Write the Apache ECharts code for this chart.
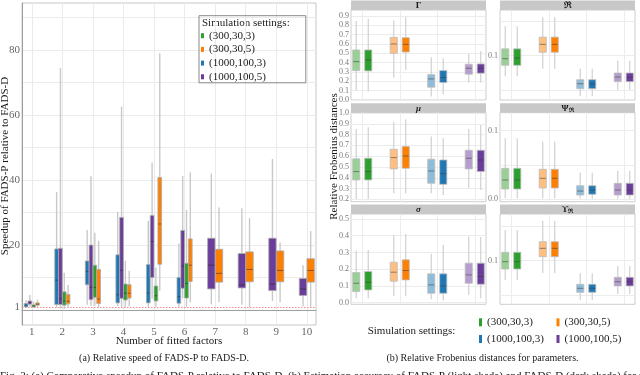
<!DOCTYPE html>
<html><head><meta charset="utf-8">
<script src="https://cdn.jsdelivr.net/npm/echarts@6/dist/echarts.min.js"></script>
<style>html,body{margin:0;padding:0;background:#fff;overflow:hidden}#c{width:640px;height:375px}</style>
</head><body><div id="c"></div>
<script>
const SERIF = '"Liberation Serif","Times New Roman",serif';

// ---------- (a) speedup of FADS-P relative to FADS-D ----------
// rows: [number of fitted factors, min, q1, median, q3, max]
const settings = ['(300,30,3)', '(300,30,5)', '(1000,100,3)', '(1000,100,5)'];
const factorTicks = [1, 2, 3, 4, 5, 6, 7, 8, 9, 10];
const speedupTicks = [1, 20, 40, 60, 80];
const speedupGrid = [0, 10, 20, 30, 40, 50, 60, 70, 80, 90];

const speed_300_30_3 = [
  [1, 0.7, 1.0, 1.2, 1.6, 2.6],
  [2, 0.3, 1.5, 2.8, 5.6, 11.5],
  [3, 1.3, 3.9, 7.0, 13.8, 23.8],
  [4, 1.0, 3.1, 5.2, 8.0, 15.2],
  [5, 1.0, 2.8, 4.4, 7.4, 13.0],
  [6, 1.0, 3.7, 8.2, 14.4, 30.8]
];
const speed_300_30_5 = [
  [1, 0.8, 1.5, 1.8, 2.2, 3.2],
  [2, 0.6, 1.9, 2.7, 4.8, 7.7],
  [3, 0.8, 2.0, 3.4, 12.5, 21.3],
  [4, 1.2, 3.7, 5.2, 7.8, 12.1],
  [5, 5.9, 14.1, 26.5, 40.8, 79.0],
  [6, 2.4, 8.8, 13.8, 21.9, 42.4],
  [7, 2.4, 8.6, 11.3, 18.7, 31.6],
  [8, 0.8, 8.7, 12.5, 17.9, 28.3],
  [9, 2.4, 8.7, 12.2, 18.2, 20.8],
  [10, 1.0, 8.6, 12.2, 15.8, 24.3]
];
const speed_1000_100_3 = [
  [1, 0.6, 1.0, 1.3, 2.0, 3.0],
  [2, 0.6, 1.7, 9.2, 18.8, 36.3],
  [3, 1.6, 7.8, 11.9, 15.1, 24.6],
  [4, 1.2, 2.2, 4.7, 17.0, 30.2],
  [5, 1.0, 2.2, 5.2, 14.0, 27.4],
  [6, 1.0, 2.1, 4.1, 10.0, 20.5]
];
const speed_1000_100_5 = [
  [1, 1.0, 1.8, 2.3, 2.8, 4.6],
  [2, 0.5, 1.7, 3.5, 19.0, 74.5],
  [3, 1.3, 3.2, 7.0, 20.0, 41.2],
  [4, 1.0, 3.6, 12.2, 28.5, 62.6],
  [5, 3.5, 10.0, 21.1, 29.1, 45.4],
  [6, 3.6, 6.7, 13.5, 24.5, 41.3],
  [7, 1.8, 6.5, 13.8, 22.1, 42.0],
  [8, 1.6, 6.8, 7.7, 17.4, 31.3],
  [9, 2.8, 6.0, 8.0, 22.1, 46.5],
  [10, 1.2, 4.5, 6.5, 9.7, 13.8]
];

// ---------- (b) relative Frobenius distances ----------
// rows: [setting index, min, q1, median, q3, max]; P = light boxes, D = dark boxes
const gamma_P = [[1, 0.100, 0.313, 0.409, 0.534, 0.843], [2, 0.238, 0.498, 0.598, 0.669, 0.850], [3, 0.036, 0.135, 0.224, 0.270, 0.456], [4, 0.185, 0.274, 0.338, 0.381, 0.491]];
const gamma_D = [[1, 0.089, 0.310, 0.427, 0.534, 0.865], [2, 0.320, 0.512, 0.594, 0.665, 0.886], [3, 0.060, 0.185, 0.238, 0.313, 0.445], [4, 0.185, 0.285, 0.338, 0.384, 0.523]];
const R_P = [[1, 0.070, 0.086, 0.0956, 0.110, 0.143], [2, 0.081, 0.105, 0.1165, 0.127, 0.156], [3, 0.041, 0.052, 0.0592, 0.065, 0.081], [4, 0.0505, 0.0622, 0.0690, 0.0748, 0.0927]];
const R_D = [[1, 0.070, 0.086, 0.0966, 0.110, 0.143], [2, 0.081, 0.105, 0.1165, 0.127, 0.156], [3, 0.041, 0.052, 0.0587, 0.065, 0.081], [4, 0.0505, 0.0622, 0.0685, 0.0748, 0.0927]];
const mu_P = [[1, 0.203, 0.380, 0.457, 0.575, 0.853], [2, 0.256, 0.482, 0.587, 0.664, 0.920], [3, 0.256, 0.349, 0.463, 0.572, 0.782], [4, 0.308, 0.482, 0.581, 0.655, 0.853]];
const mu_D = [[1, 0.203, 0.380, 0.457, 0.581, 0.869], [2, 0.256, 0.488, 0.602, 0.689, 0.940], [3, 0.240, 0.339, 0.438, 0.565, 0.767], [4, 0.287, 0.457, 0.565, 0.655, 0.890]];
const psiR_P = [[1, 0.0015, 0.0150, 0.0282, 0.0451, 0.0888], [2, 0.0015, 0.0165, 0.0306, 0.0437, 0.0840], [3, 0.0010, 0.0063, 0.0121, 0.0199, 0.0388], [4, 0.0010, 0.0063, 0.0136, 0.0233, 0.0417]];
const psiR_D = [[1, 0.0015, 0.0150, 0.0282, 0.0451, 0.0888], [2, 0.0015, 0.0165, 0.0306, 0.0437, 0.0840], [3, 0.0010, 0.0073, 0.0136, 0.0199, 0.0388], [4, 0.0010, 0.0063, 0.0136, 0.0233, 0.0417]];
const sigma_P = [[1, 0.026, 0.066, 0.116, 0.180, 0.311], [2, 0.040, 0.128, 0.182, 0.242, 0.405], [3, 0.020, 0.056, 0.106, 0.172, 0.292], [4, 0.046, 0.116, 0.166, 0.236, 0.395]];
const sigma_D = [[1, 0.026, 0.076, 0.122, 0.186, 0.315], [2, 0.040, 0.136, 0.192, 0.256, 0.411], [3, 0.012, 0.056, 0.100, 0.172, 0.344], [4, 0.026, 0.110, 0.156, 0.236, 0.392]];
const upsR_P = [[1, 0.0719, 0.0879, 0.0985, 0.1122, 0.1447], [2, 0.0817, 0.1058, 0.1180, 0.1277, 0.1580], [3, 0.0428, 0.0540, 0.0598, 0.0656, 0.0817], [4, 0.0515, 0.0632, 0.0694, 0.0758, 0.0923]];
const upsR_D = [[1, 0.0719, 0.0879, 0.0985, 0.1122, 0.1447], [2, 0.0817, 0.1058, 0.1180, 0.1277, 0.1580], [3, 0.0428, 0.0540, 0.0598, 0.0656, 0.0817], [4, 0.0515, 0.0632, 0.0694, 0.0758, 0.0923]];

const facetLabels = ['{b|Γ}', '{b|ℜ}', '{bi|μ}', '{b|Ψ}{s|ℜ}', '{bi|σ}', '{b|ϒ}{s|ℜ}'];
const facetLabelTicks = [
  [0, 0.1, 0.2, 0.3, 0.4, 0.5, 0.6, 0.7, 0.8, 0.9], [0.1],
  [0.2, 0.3, 0.4, 0.5, 0.6, 0.7, 0.8, 0.9, 1.0], [0.0, 0.1],
  [0, 0.1, 0.2, 0.3, 0.4, 0.5], [0.1]
];
const facetGridTicks = [
  [0, 0.1, 0.2, 0.3, 0.4, 0.5, 0.6, 0.7, 0.8, 0.9], [0.05, 0.1, 0.15],
  [0.2, 0.3, 0.4, 0.5, 0.6, 0.7, 0.8, 0.9, 1.0], [0, 0.05, 0.1],
  [0, 0.1, 0.2, 0.3, 0.4, 0.5], [0.05, 0.1, 0.15]
];

// ---------- styling / layout ----------
const darkColors = ['#2ca02c', '#ff7f00', '#1f78b4', '#6a3d9a'];
const lightColors = ['#99d095', '#ffbf80', '#8fbcd9', '#b59ecd'];
const leftArrays = [speed_300_30_3, speed_300_30_5, speed_1000_100_3, speed_1000_100_5];
const dodgeOrder = [2, 3, 0, 1];
const groupWidth = 0.5;
const presentAt = {};
factorTicks.forEach(f => {
  presentAt[f] = dodgeOrder.filter(i => leftArrays[i].some(r => r[0] === f));
});

const facetP = [gamma_P, R_P, mu_P, psiR_P, sigma_P, upsR_P];
const facetD = [gamma_D, R_D, mu_D, psiR_D, sigma_D, upsR_D];
const facetRange = [[-0.002, 0.962], [0.0355, 0.1665], [0.178, 1.003], [-0.0034, 0.126], [-0.01, 0.53], [0.0365, 0.168]];
const colLeft = [351, 500];
const rowTop = [10, 112.7, 214];
const rowH = [90, 89, 90.3];
const panelW = 135;

function boxShape(api, xc, hw, fill, stroke, medStroke, whisk, wl) {
  const xl = api.coord([xc - hw, 0])[0], xr = api.coord([xc + hw, 0])[0];
  const cx = api.coord([xc, 0])[0];
  const y = i => api.coord([xc, api.value(i)])[1];
  const yMin = y(1), yQ1 = y(2), yMed = y(3), yQ3 = y(4), yMax = y(5);
  return {
    type: 'group',
    children: [
      {type: 'line', shape: {x1: cx, y1: yMax, x2: cx, y2: yQ3}, style: {stroke: whisk, lineWidth: wl}},
      {type: 'line', shape: {x1: cx, y1: yQ1, x2: cx, y2: yMin}, style: {stroke: whisk, lineWidth: wl}},
      {type: 'rect', shape: {x: xl, y: yQ3, width: xr - xl, height: yQ1 - yQ3}, style: {fill: fill, stroke: stroke, lineWidth: 0.8}},
      {type: 'line', shape: {x1: xl + 0.5, y1: yMed, x2: xr - 0.5, y2: yMed}, style: {stroke: medStroke, lineWidth: 1}}
    ]
  };
}

function leftRender(si) {
  return function (params, api) {
    const f = api.value(0);
    const pres = presentAt[f];
    const n = pres.length, j = pres.indexOf(si);
    const slot = groupWidth / n;
    const xc = f - groupWidth / 2 + slot * (j + 0.5);
    return boxShape(api, xc, slot / 2 * 0.97, darkColors[si], '#a9a9a9', 'rgba(40,40,40,0.55)', '#c9c9c9', 1.4);
  };
}
function rightRender(offset, light) {
  return function (params, api) {
    const s = api.value(0);
    const c = light ? lightColors[s - 1] : darkColors[s - 1];
    return boxShape(api, s + offset, 0.095, c, '#bdbdbd', 'rgba(60,60,60,0.55)', '#d0d0d0', 1.2);
  };
}

const grids = [{left: 22, top: 3, width: 294, height: 322, show: true, borderColor: '#c6c6c6', borderWidth: 1}];
const xAxes = [{
  type: 'value', gridIndex: 0, min: 0.68, max: 10.3,
  axisLine: {show: true, lineStyle: {color: '#9e9e9e'}},
  axisTick: {show: false, customValues: factorTicks},
  axisLabel: {customValues: factorTicks, fontFamily: SERIF, fontSize: 11, color: '#666', margin: 2},
  splitLine: {show: true, lineStyle: {color: '#ebebeb', width: 1}}
}];
const yAxes = [{
  type: 'value', gridIndex: 0, min: -4.6, max: 94.5,
  axisLine: {show: true, lineStyle: {color: '#9e9e9e'}},
  axisTick: {show: false, customValues: speedupGrid},
  axisLabel: {customValues: speedupTicks, fontFamily: SERIF, fontSize: 11, color: '#666', margin: 2},
  splitLine: {show: true, lineStyle: {color: '#ebebeb', width: 1}}
}];
const series = [];
settings.forEach((name, si) => {
  const s = {
    type: 'custom', name: name, xAxisIndex: 0, yAxisIndex: 0,
    itemStyle: {color: darkColors[si]},
    renderItem: leftRender(si), clip: true,
    encode: {x: 0, y: [1, 2, 3, 4, 5]},
    data: leftArrays[si], z: 3
  };
  if (si === 0) {
    s.markLine = {silent: true, symbol: 'none', label: {show: false}, z: 2,
      lineStyle: {color: '#f08080', opacity: 0.9, type: [1.5, 1.5], width: 1}, data: [{yAxis: 1}]};
  }
  series.push(s);
});

const graphics = [];
for (let k = 0; k < 6; k++) {
  const col = k % 2, row = Math.floor(k / 2);
  const gi = k + 1;
  grids.push({left: colLeft[col], top: rowTop[row], width: panelW, height: rowH[row], show: true, borderColor: '#cdcdcd', borderWidth: 1});
  xAxes.push({type: 'value', gridIndex: gi, min: 0.7, max: 4.3,
    axisLine: {show: false}, axisLabel: {show: false},
    axisTick: {show: false, customValues: [1, 2, 3, 4]},
    splitLine: {show: true, lineStyle: {color: '#ececec'}}});
  yAxes.push({type: 'value', gridIndex: gi, min: facetRange[k][0], max: facetRange[k][1],
    axisLine: {show: false},
    axisTick: {show: false, customValues: facetGridTicks[k]},
    axisLabel: {customValues: facetLabelTicks[k], formatter: v => Number(v).toFixed(1), fontFamily: SERIF, fontSize: 8, color: '#777', margin: 2},
    splitLine: {show: true, lineStyle: {color: '#ececec'}}});
  series.push({type: 'custom', name: 'P' + k, xAxisIndex: gi, yAxisIndex: gi, renderItem: rightRender(-0.16, true), clip: true,
    encode: {x: 0, y: [1, 2, 3, 4, 5]}, data: facetP[k]});
  series.push({type: 'custom', name: 'D' + k, xAxisIndex: gi, yAxisIndex: gi, renderItem: rightRender(0.16, false), clip: true,
    encode: {x: 0, y: [1, 2, 3, 4, 5]}, data: facetD[k]});
  const stripTop = rowTop[row] - 9.5;
  graphics.push({type: 'rect', left: colLeft[col], top: stripTop, shape: {width: panelW, height: 9.5}, style: {fill: '#c8c8c8'}, silent: true});
  graphics.push({type: 'text', x: colLeft[col] + panelW / 2, y: stripTop + 5, silent: true,
    style: {text: facetLabels[k], align: 'center', verticalAlign: 'middle', fill: '#1a1a1a',
      rich: {
        b: {fontFamily: SERIF, fontWeight: 'bold', fontSize: 9, fill: '#1a1a1a'},
        bi: {fontFamily: SERIF, fontWeight: 'bold', fontStyle: 'italic', fontSize: 9, fill: '#1a1a1a'},
        s: {fontFamily: SERIF, fontWeight: 'bold', fontSize: 6, fill: '#1a1a1a', padding: [4, 0, 0, 0]}
      }}});
}

const txt = (x, y, text, size, extra) => Object.assign({type: 'text', x: x, y: y, silent: true,
  style: {text: text, fontFamily: SERIF, fontSize: size, fill: '#1a1a1a', align: 'center', verticalAlign: 'middle'}}, extra || {});
graphics.push(txt(5.5, 166, 'Speedup of FADS-P relative to FADS-D', 11, {rotation: Math.PI / 2}));
graphics.push(txt(169, 341.5, 'Number of fitted factors', 11));
const legTitle = txt(202, 23, 'Simulation settings:', 11);
legTitle.style.align = 'left';
graphics.push(legTitle);
graphics.push(txt(334, 156.5, 'Relative Frobenius distances', 11, {rotation: Math.PI / 2}));
graphics.push(txt(411.5, 330.7, 'Simulation settings:', 11));
graphics.push(txt(164, 358, '(a) Relative speed of FADS-P to FADS-D.', 10));
graphics.push(txt(482.5, 358, '(b) Relative Frobenius distances for parameters.', 10));
const figCap = txt(0, 376.5, 'Fig. 2: (a) Comparative speedup of FADS-P relative to FADS-D. (b) Estimation accuracy of FADS-P (light shade) and FADS-D (dark shade) for parameters.', 11);
figCap.style.align = 'left';
graphics.push(figCap);

const legendText = {fontFamily: SERIF, fontSize: 11, color: '#1a1a1a', lineHeight: 12};
const option = {
  animation: false,
  color: darkColors,
  grid: grids, xAxis: xAxes, yAxis: yAxes, series: series,
  legend: [
    {orient: 'vertical', left: 199, top: 15.7, data: settings, icon: 'rect', itemWidth: 3, itemHeight: 5, itemGap: 1.7,
      padding: [14, 40, 0, 2], borderColor: '#8a8a8a', borderWidth: 1, textStyle: legendText},
    {orient: 'vertical', left: 479, top: 316.3, data: [settings[0], settings[2]], icon: 'rect', itemWidth: 3, itemHeight: 8, itemGap: 4.7,
      padding: 0, textStyle: legendText},
    {orient: 'vertical', left: 556.5, top: 316.3, data: [settings[1], settings[3]], icon: 'rect', itemWidth: 3, itemHeight: 8, itemGap: 4.7,
      padding: 0, textStyle: legendText}
  ],
  graphic: graphics
};
const chart = echarts.init(document.getElementById('c'), null, {renderer: 'canvas'});
chart.setOption(option);
</script></body></html>
